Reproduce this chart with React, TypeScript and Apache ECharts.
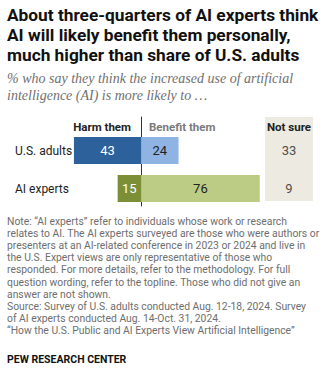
import React, { useEffect, useRef } from "react";
import * as echarts from "echarts";

const categories = ["U.S. adults", "AI experts"];
const harmValues = [43, 15];
const benefitValues = [24, 76];
const notSureValues = [33, 9];
const harmColors = ["#2D619B", "#7C8F36"];
const benefitColors = ["#8FB3E2", "#BCCC84"];
const harmLabelColors = ["#ffffff", "#ffffff"];
const benefitLabelColors = ["#222222", "#222222"];

const titleLines = [
  "About three-quarters of AI experts think",
  "AI will likely benefit them personally,",
  "much higher than share of U.S. adults",
];
const subtitleLines = [
  "% who say they think the increased use of artificial",
  "intelligence (AI) is more likely to …",
];
const noteLines = [
  "Note: \u201cAI experts\u201d refer to individuals whose work or research",
  "relates to AI. The AI experts surveyed are those who were authors or",
  "presenters at an AI-related conference in 2023 or 2024 and live in",
  "the U.S. Expert views are only representative of those who",
  "responded. For more details, refer to the methodology. For full",
  "question wording, refer to the topline. Those who did not give an",
  "answer are not shown.",
  "Source: Survey of U.S. adults conducted Aug. 12-18, 2024. Survey",
  "of AI experts conducted Aug. 14-Oct. 31, 2024.",
  "\u201cHow the U.S. Public and AI Experts View Artificial Intelligence\u201d",
];

const SANS = "Roboto, 'Liberation Sans', Arial, sans-serif";

export default function App() {
  const ref = useRef<HTMLDivElement>(null);
  useEffect(() => {
    if (!ref.current) return;
    const chart = echarts.init(ref.current, undefined, { renderer: "svg" });
    chart.setOption({
      animation: false,
      title: [
        {
          text: titleLines.join("\n"),
          left: 7,
          top: 5,
          padding: 0,
          textStyle: { fontFamily: SANS, fontWeight: "bold", fontSize: 17.3, lineHeight: 20, color: "#111" },
        },
        {
          text: subtitleLines.join("\n"),
          left: 7,
          top: 70,
          padding: 0,
          textStyle: { fontFamily: "'Liberation Serif', 'Times New Roman', serif", fontStyle: "italic", fontWeight: "normal", fontSize: 14, lineHeight: 17, color: "#707070" },
        },
        {
          text: noteLines.join("\n"),
          left: 7,
          top: 215.5,
          padding: 0,
          textStyle: { fontFamily: SANS, fontWeight: "normal", fontSize: 10.35, lineHeight: 12.1, color: "#6e6e6e" },
        },
        {
          text: "PEW RESEARCH CENTER",
          left: 7,
          top: 353,
          padding: 0,
          textStyle: { fontFamily: SANS, fontWeight: "bold", fontSize: 10.5, lineHeight: 12, color: "#111" },
        },
      ],
      grid: [
        { left: 63, width: 203, top: 131.5, height: 76, containLabel: false },
        { left: 265, width: 48, top: 131.5, height: 76, containLabel: false },
        { left: 63, width: 203, top: 117, height: 89, containLabel: false },
      ],
      xAxis: [
        { gridIndex: 0, type: "value", min: -50, max: 80, show: false },
        { gridIndex: 1, type: "category", data: ["Not sure"], show: false },
        { gridIndex: 2, type: "value", min: -50, max: 80, show: false },
      ],
      yAxis: [
        {
          gridIndex: 0,
          type: "category",
          data: categories,
          inverse: true,
          axisLine: { show: false, onZero: false },
          axisTick: { show: false },
          axisLabel: { align: "left", margin: 48, fontFamily: SANS, fontSize: 12, color: "#222" },
        },
        { gridIndex: 1, type: "category", data: categories, inverse: true, show: false },
        {
          gridIndex: 2,
          type: "value",
          min: 0,
          max: 1,
          axisLine: { show: true, onZero: true, lineStyle: { color: "#333", width: 1 } },
          axisTick: { show: false },
          axisLabel: { show: false },
          splitLine: { show: false },
        },
      ],
      graphic: [
        { type: "rect", shape: { x: 265, y: 117, width: 48, height: 84 }, style: { fill: "#ECEAE1" }, z: -1 },
        { type: "text", x: 131, y: 127, style: { text: "Harm them", align: "right", verticalAlign: "middle", font: "bold 11.5px " + SANS, fill: "#222" } },
        { type: "text", x: 149, y: 127, style: { text: "Benefit them", align: "left", verticalAlign: "middle", font: "bold 11.5px " + SANS, fill: "#7a7a7a" } },
        { type: "text", x: 289, y: 127, style: { text: "Not sure", align: "center", verticalAlign: "middle", font: "bold 11.5px " + SANS, fill: "#222" } },
      ],
      series: [
        {
          type: "bar",
          xAxisIndex: 0,
          yAxisIndex: 0,
          stack: "a",
          barWidth: 27,
          data: harmValues.map((v, i) => ({
            value: -v,
            itemStyle: { color: harmColors[i] },
            label: { color: harmLabelColors[i] },
          })),
          label: {
            show: true,
            position: "inside",
            fontFamily: SANS,
            fontSize: 13,
            formatter: (p: any) => String(Math.abs(p.value)),
          },
        },
        {
          type: "bar",
          xAxisIndex: 0,
          yAxisIndex: 0,
          stack: "a",
          barWidth: 27,
          data: benefitValues.map((v, i) => ({
            value: v,
            itemStyle: { color: benefitColors[i] },
            label: { color: benefitLabelColors[i] },
          })),
          label: { show: true, position: "inside", fontFamily: SANS, fontSize: 13 },
        },
        {
          type: "scatter",
          xAxisIndex: 1,
          yAxisIndex: 1,
          symbolSize: 1,
          itemStyle: { color: "rgba(0,0,0,0)" },
          data: notSureValues.map((v, i) => [0, i, v]),
          label: {
            show: true,
            position: "inside",
            fontFamily: SANS,
            fontSize: 13,
            color: "#222",
            formatter: (p: any) => String(p.value[2]),
          },
        },
      ],
    });
    return () => chart.dispose();
  }, []);
  return <div ref={ref} style={{ width: 332, height: 371, position: "absolute", left: 0, top: 0 }} />;
}
